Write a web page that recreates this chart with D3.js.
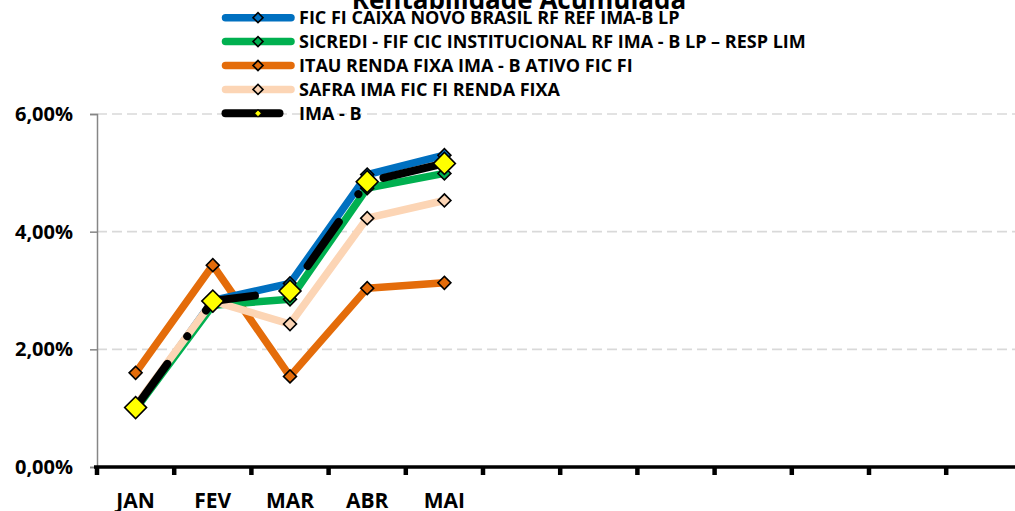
<!DOCTYPE html>
<html>
<head>
<meta charset="utf-8">
<script src="https://cdn.jsdelivr.net/npm/d3@7"></script>
<style>
  body { margin: 0; background: #fff; }
  svg { display: block; font-family: "Open Sans", Lato, sans-serif; font-weight: bold; }
</style>
</head>
<body>
<div class="chart"></div>
<script>
// months on the x axis (only first five have labels)
var months = ["JAN", "FEV", "MAR", "ABR", "MAI", "JUN", "JUL", "AGO", "SET", "OUT", "NOV", "DEZ"];
var monthLabels = ["JAN", "FEV", "MAR", "ABR", "MAI", "", "", "", "", "", "", ""];
var yTicks = [0, 0.02, 0.04, 0.06];

// accumulated returns, JAN..MAI
var caixa   = [0.0100, 0.0283, 0.0312, 0.0497, 0.0530];
var sicredi = [0.0098, 0.0275, 0.0285, 0.0474, 0.0499];
var itau    = [0.0160, 0.0343, 0.0154, 0.0304, 0.0313];
var safra   = [0.0104, 0.0282, 0.0243, 0.0423, 0.0453];
var imab    = [0.0101, 0.0282, 0.0299, 0.0485, 0.0516];

var seriesNames = [
  "FIC FI CAIXA NOVO BRASIL RF REF IMA-B LP",
  "SICREDI - FIF CIC INSTITUCIONAL RF IMA - B LP \u2013 RESP LIM",
  "ITAU RENDA FIXA IMA - B ATIVO FIC FI",
  "SAFRA IMA FIC FI RENDA FIXA",
  "IMA - B"
];

var svgWidth = 1015, svgHeight = 511;

var svg = d3.select(".chart").append("svg")
  .attr("width", svgWidth)
  .attr("height", svgHeight);

var x = d3.scaleBand().domain(months).range([97, 1023.4]);
var y = d3.scaleLinear().domain([0, 0.06]).range([467, 114]);
var cx = function(i) { return x(months[i]) + x.bandwidth() / 2; };

// gridlines
svg.append("g").selectAll("line")
  .data(yTicks.slice(1))
  .enter().append("line")
  .attr("x1", 97).attr("x2", svgWidth)
  .attr("y1", d => y(d)).attr("y2", d => y(d))
  .attr("stroke", "#d9d9d9")
  .attr("stroke-width", 1.6)
  .attr("stroke-dasharray", "10,5");

// y axis
var leftAxis = d3.axisLeft(y)
  .tickValues(yTicks)
  .tickSize(7)
  .tickPadding(17)
  .tickFormat(d => d3.format(".2f")(d * 100).replace(".", ",") + "%");

var yAxis = svg.append("g")
  .attr("transform", "translate(97,0)")
  .call(leftAxis);
yAxis.select(".domain").attr("stroke", "#868686").attr("stroke-width", 1.5);
yAxis.selectAll(".tick line").attr("stroke", "#868686").attr("stroke-width", 1.5);
yAxis.selectAll("text")
  .attr("fill", "#000")
  .style("font-size", "20px")
  .style("font-family", "'Open Sans', sans-serif")
  .style("font-weight", "bold");

// series definitions (drawing order)
var series = [
  { values: itau,    color: "#e46c0a", marker: "#e46c0a", width: 7.5, msize: 84 },
  { values: caixa,   color: "#0070c0", marker: "#0070c0", width: 7.5, msize: 84 },
  { values: sicredi, color: "#00b050", marker: "#00b050", width: 7.5, msize: 84 },
  { values: safra,   color: "#fcd5b5", marker: "#fcd5b5", width: 7.5, msize: 84 },
  { values: imab,    color: "#000000", marker: "#ffff00", width: 8, msize: 240, dash: "54 34 0.01 32" }
];

var line = d3.line()
  .x((d, i) => cx(i))
  .y(d => y(d));

var diamond = d3.symbol().type(d3.symbolSquare);

series.forEach(function(s) {
  var p = svg.append("path")
    .datum(s.values)
    .attr("d", line)
    .attr("fill", "none")
    .attr("stroke", s.color)
    .attr("stroke-width", s.width)
    .attr("stroke-linejoin", "round")
    .attr("stroke-linecap", "round");
  if (s.dash) p.attr("stroke-dasharray", s.dash);

  svg.append("g").selectAll("path")
    .data(s.values)
    .enter().append("path")
    .attr("d", diamond.size(s.msize)())
    .attr("transform", (d, i) => `translate(${cx(i)},${y(d)}) rotate(45)`)
    .attr("fill", s.marker)
    .attr("stroke", "#000")
    .attr("stroke-width", 1.6);
});

// x axis: thick black line with ticks at band edges
svg.append("line")
  .attr("x1", 94).attr("x2", svgWidth)
  .attr("y1", 467).attr("y2", 467)
  .attr("stroke", "#000")
  .attr("stroke-width", 3.5);

svg.append("g").selectAll("line")
  .data(months)
  .enter().append("line")
  .attr("x1", d => x(d)).attr("x2", d => x(d))
  .attr("y1", 467).attr("y2", 475)
  .attr("stroke", "#000")
  .attr("stroke-width", 4.5);

svg.append("g").selectAll("text")
  .data(monthLabels)
  .enter().append("text")
  .attr("x", (d, i) => cx(i))
  .attr("y", 508)
  .attr("text-anchor", "middle")
  .style("font-size", "21px")
  .text(d => d);

// title (cut off at top)
svg.append("text")
  .attr("x", 519)
  .attr("y", 8.5)
  .attr("text-anchor", "middle")
  .style("font-size", "26px")
  .text("Rentabilidade Acumulada");

// legend
var legendOrder = [1, 2, 0, 3, 4];
var legend = svg.append("g");
legendOrder.forEach(function(si, k) {
  var s = series[si];
  var ly = 17.7 + k * 23.9;
  var l = legend.append("line")
    .attr("x1", 225.5).attr("x2", 291)
    .attr("y1", ly).attr("y2", ly)
    .attr("stroke", s.color)
    .attr("stroke-width", s.width)
    .attr("stroke-linecap", "round");
  if (s.dash) l.attr("stroke-dasharray", s.dash);
  legend.append("path")
    .attr("d", diamond.size(si === 4 ? 26 : 50)())
    .attr("transform", `translate(258,${ly}) rotate(45)`)
    .attr("fill", s.marker)
    .attr("stroke", "#000")
    .attr("stroke-width", si === 4 ? 1 : 1.6);
  legend.append("text")
    .attr("x", 299)
    .attr("y", ly + 6.3)
    .style("font-size", "18px")
    .text(seriesNames[k]);
});
</script>
</body>
</html>
